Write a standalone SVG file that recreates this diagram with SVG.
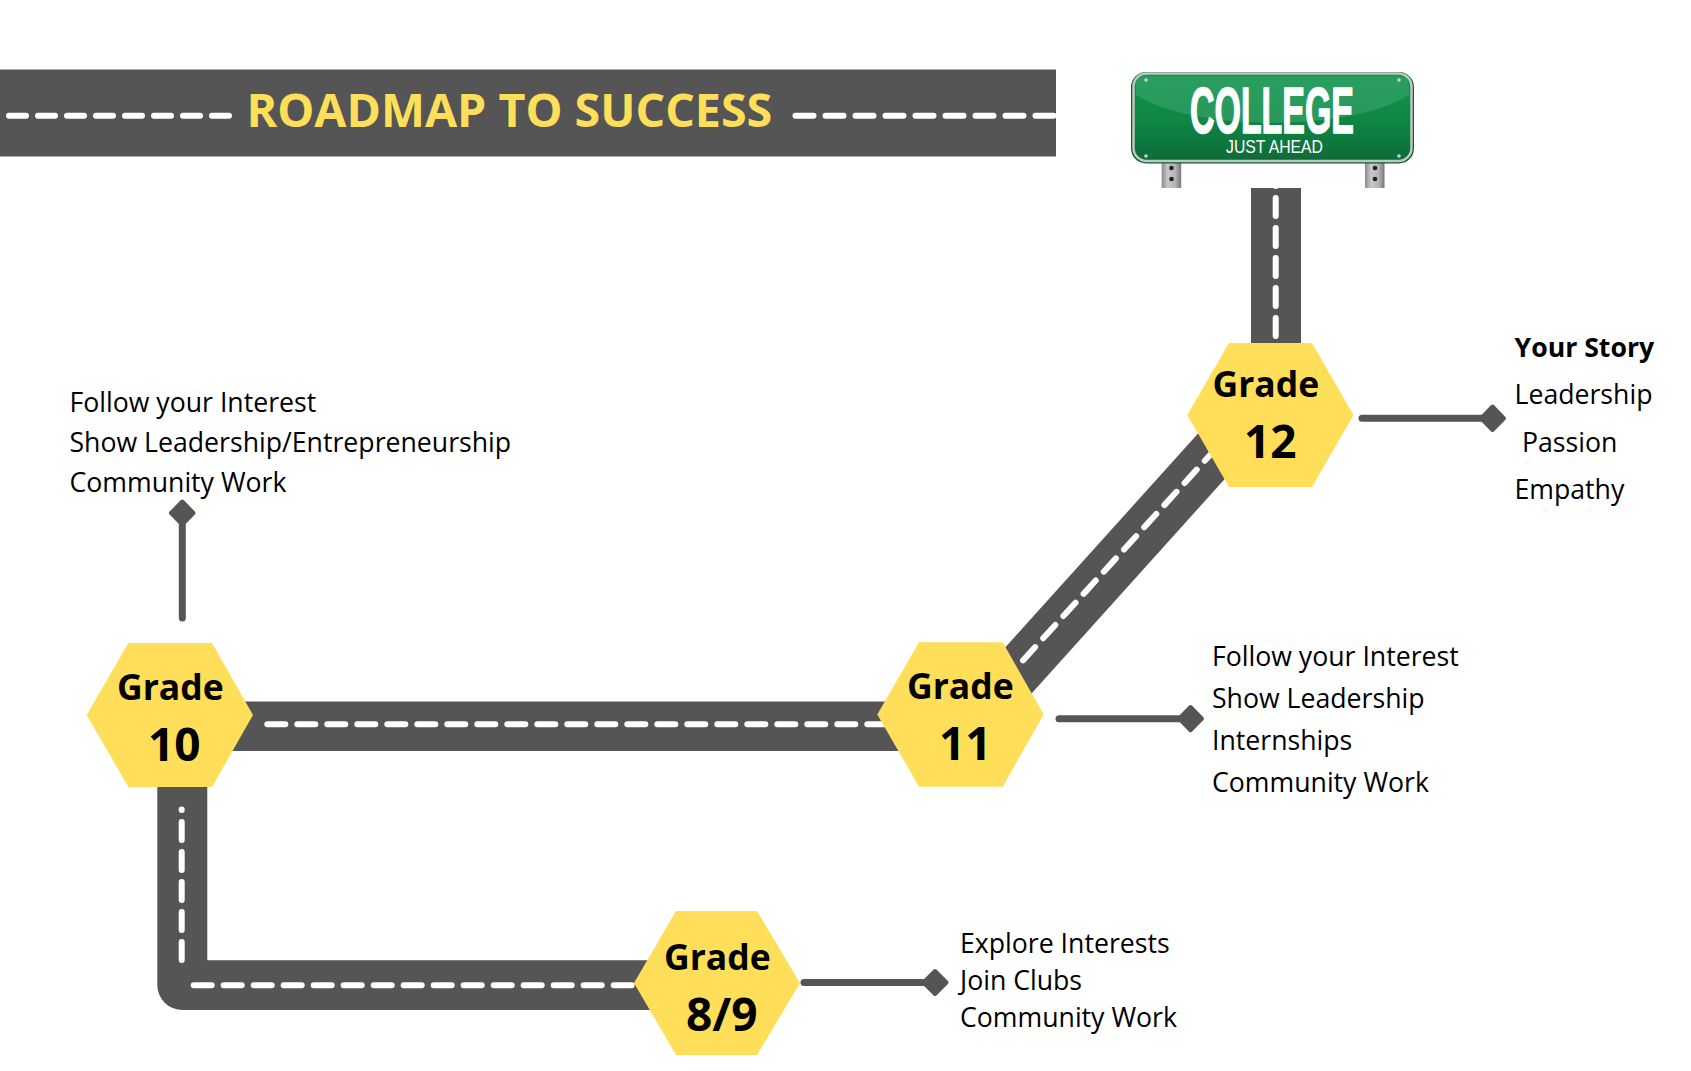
<svg xmlns="http://www.w3.org/2000/svg" width="1691" height="1071" viewBox="0 0 1691 1071">
<style>
text{font-family:"Open Sans","Noto Sans",sans-serif;fill:#000}
.road{fill:#555;stroke:none}
.dash{fill:none;stroke:#fff;stroke-width:6;stroke-linecap:round;stroke-dasharray:18 12}
.stalk{fill:none;stroke:#555;stroke-width:7;stroke-linecap:round}
.tip{fill:#555;stroke:#555;stroke-width:4;stroke-linejoin:round}
.hex{fill:#FFDE59}
.g{font-size:35.5px;font-weight:700}
.n{font-size:46px;font-weight:700}
.t{font-size:26.67px}
.b{font-size:26.67px;font-weight:700}
.rivet{fill:#c9d3cd}
.hole{fill:#222}
</style>
<defs>
<linearGradient id="signFill" x1="0" y1="0" x2="0" y2="1"><stop offset="0" stop-color="#109449"/><stop offset="0.55" stop-color="#0e8644"/><stop offset="1" stop-color="#0d6b39"/></linearGradient>
<linearGradient id="postFill" x1="0" y1="0" x2="1" y2="0"><stop offset="0" stop-color="#8a8a8a"/><stop offset="0.3" stop-color="#c8c8c8"/><stop offset="0.7" stop-color="#b5b5b5"/><stop offset="1" stop-color="#777"/></linearGradient>
</defs>
<rect width="1691" height="1071" fill="#fff"/>
<g id="title">
<rect class="road" x="0" y="69.500" width="1056" height="87"/>
<path class="dash" style="stroke-dasharray:17 12" d="M9 115.700H230"/>
<path class="dash" d="M795.500 115.700H1056"/>
<text x="246.500" y="126.500" font-size="46.600" font-weight="700" style="fill:#FFDE59">ROADMAP TO SUCCESS</text>
</g>
<g id="connectors">
<path class="road" d="M157.300 780V985a25 25 0 0 0 25 25H700V960.300H207.300V780Z"/>
<path class="dash" d="M181.700 960V809.500"/>
<path class="dash" d="M193.700 985.300H640"/>
<rect class="road" x="200" y="701.500" width="780" height="49.500"/>
<path class="dash" d="M267.300 724.300H900"/>
<polygon class="road" points="939.900,720 1210.200,420 1277.900,420 1007.600,720"/>
<path class="dash" d="M1023 660.400L1223.700 440"/>
<rect class="road" x="1251" y="188" width="50" height="170"/>
<path class="dash" d="M1275.700 168V336"/>
<path class="stalk" d="M182.300 618V525"/>
<path class="tip" d="M182.300 501.500L193.500 513L182.300 524.500L171 513Z"/>
<path class="stalk" d="M804 982.500H925"/>
<path class="tip" d="M935 971L946.500 982.500L935 994L923.500 982.500Z"/>
<path class="stalk" d="M1059 718.700H1180"/>
<path class="tip" d="M1190.500 707L1202 718.700L1190.500 730.300L1179 718.700Z"/>
<path class="stalk" d="M1362 418.300H1481"/>
<path class="tip" d="M1492.500 406.500L1504 418.300L1492.500 430L1481 418.300Z"/>
</g>
<g id="sign">
<rect x="1161.700" y="160" width="19.500" height="28" fill="url(#postFill)"/>
<rect x="1365" y="160" width="19.500" height="28" fill="url(#postFill)"/>
<circle class="hole" cx="1171.500" cy="168" r="2.300"/><circle class="hole" cx="1171.500" cy="179" r="2.300"/>
<circle class="hole" cx="1375" cy="168" r="2.300"/><circle class="hole" cx="1375" cy="179" r="2.300"/>
<rect x="1131" y="72" width="283" height="91.500" rx="15" fill="#0c5f33"/>
<rect x="1133.500" y="73.500" width="278" height="87.500" rx="13" fill="url(#signFill)" stroke="#bcc8c1" stroke-width="2.500"/>
<path d="M1136 95C1195 132 1350 132 1409 95V86Q1409 76 1399 76H1146Q1136 76 1136 86Z" fill="#3fa873" opacity="0.55"/>
<circle class="rivet" cx="1146" cy="80" r="1.800"/><circle class="rivet" cx="1399" cy="80" r="1.800"/>
<circle class="rivet" cx="1146" cy="156" r="1.800"/><circle class="rivet" cx="1399" cy="156" r="1.800"/>
<text x="1190" y="132.700" font-size="65" font-weight="700" textLength="164" lengthAdjust="spacingAndGlyphs" style="fill:#fff;stroke:#fff;stroke-width:1.500;font-family:'Liberation Sans',sans-serif">COLLEGE</text>
<text x="1226" y="152.700" font-size="19" textLength="97" lengthAdjust="spacingAndGlyphs" style="fill:#fff;font-family:'Liberation Sans',sans-serif">JUST AHEAD</text>
</g>
<g id="grade-8-9">
<polygon class="hex" points="634,983 676,911 757,911 800,983 757,1055 676,1055"/>
<text class="g" x="664" y="969.500">Grade</text>
<text class="n" x="686" y="1030.500">8/9</text>
</g>
<g id="grade-10">
<polygon class="hex" points="86.700,715 128.300,643 212,643 253,715 212,787 128.300,787"/>
<text class="g" x="117" y="700.300">Grade</text>
<text class="n" x="148" y="760.700">10</text>
</g>
<g id="grade-11">
<polygon class="hex" points="877.300,714.500 919,642.300 1002.700,642.300 1043.700,714.500 1002.700,786.700 919,786.700"/>
<text class="g" x="907" y="699.300">Grade</text>
<text class="n" x="939" y="760">11</text>
</g>
<g id="grade-12">
<polygon class="hex" points="1187.300,415 1229,343 1312,343 1353.500,415 1312,487 1229,487"/>
<text class="g" x="1212.500" y="397.300">Grade</text>
<text class="n" x="1244" y="458.300">12</text>
</g>
<g id="notes-10">
<text class="t" x="69.500" y="412">Follow your Interest</text>
<text class="t" x="69.500" y="452">Show Leadership/Entrepreneurship</text>
<text class="t" x="69.500" y="492">Community Work</text>
</g>
<g id="notes-12">
<text class="b" x="1514.500" y="356.700">Your Story</text>
<text class="t" x="1514.500" y="404">Leadership</text>
<text class="t" x="1522" y="451.500">Passion</text>
<text class="t" x="1514.500" y="498.800">Empathy</text>
</g>
<g id="notes-11">
<text class="t" x="1212" y="665.500">Follow your Interest</text>
<text class="t" x="1212" y="707.600">Show Leadership</text>
<text class="t" x="1212" y="749.600">Internships</text>
<text class="t" x="1212" y="791.700">Community Work</text>
</g>
<g id="notes-8-9">
<text class="t" x="960" y="953.400">Explore Interests</text>
<text class="t" x="960" y="989.500">Join Clubs</text>
<text class="t" x="960" y="1026.700">Community Work</text>
</g>
</svg>
